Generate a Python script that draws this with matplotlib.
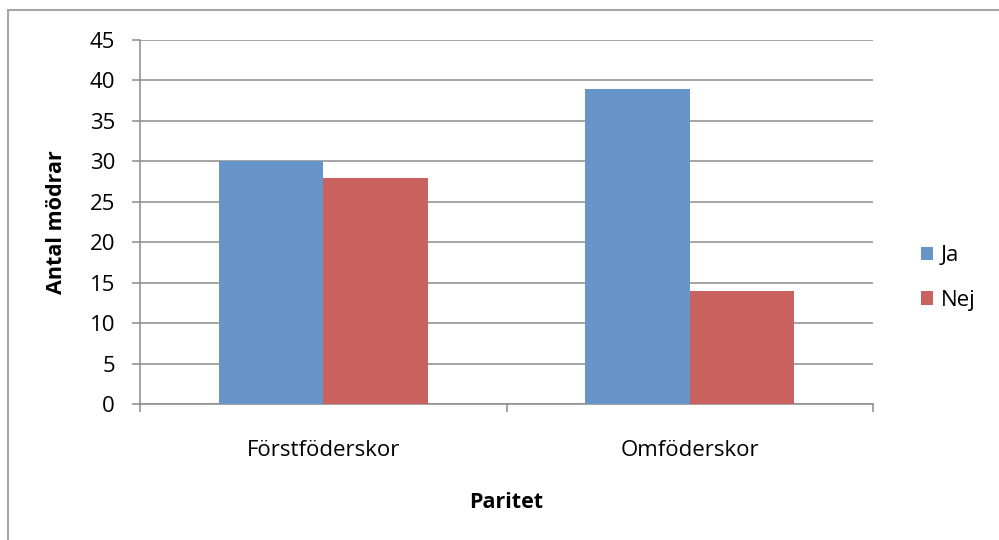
import matplotlib.pyplot as plt
from matplotlib.patches import Rectangle
import numpy as np

categories = ['Förstföderskor', 'Omföderskor']
ja_values = [30, 39]
nej_values = [28, 14]
series_labels = ['Ja', 'Nej']
yticks = list(range(0, 50, 5))

blue = '#6794C9'
red = '#C9625F'
grid_color = '#8C8C8C'

plt.rcParams['font.family'] = ['Open Sans', 'DejaVu Sans']

fig = plt.figure(figsize=(9.99, 5.4), dpi=100)
# plot area in pixel coordinates: x 140..873, y 40..404 (from top)
W, H = 999, 540
ax = fig.add_axes([140 / W, 1 - 404 / H, (873 - 140) / W, (404 - 40) / H])

# outer chart border (only top and left are inside the picture)
fig.patches.append(Rectangle((8 / W, -0.1), 1.2, 1 - 10 / H + 0.1, transform=fig.transFigure,
                             fill=False, edgecolor='#A6A6A6', linewidth=1.5))

x = np.arange(len(categories))
w = 1 / 3.5
ax.bar(x - w / 2, ja_values, w, color=blue, label=series_labels[0], zorder=3)
ax.bar(x + w / 2, nej_values, w, color=red, label=series_labels[1], zorder=3)

ax.set_xlim(-0.5, 1.5)
ax.set_ylim(0, 45)
ax.set_yticks(yticks)
ax.set_xticks(x)
ax.set_xticklabels(categories, fontsize=16)
ax.tick_params(axis='x', length=0, pad=26)
ax.set_xticks([-0.5, 0.5, 1.5], minor=True)
ax.tick_params(axis='x', which='minor', length=6, width=1.1, color=grid_color)
ax.tick_params(axis='y', length=6, width=1.1, color=grid_color, labelsize=16, pad=12)

ax.grid(axis='y', color=grid_color, linewidth=1.1, zorder=0)
for side in ['top', 'right']:
    ax.spines[side].set_visible(False)
for side in ['left', 'bottom']:
    ax.spines[side].set_color(grid_color)
    ax.spines[side].set_linewidth(1.1)

ax.set_ylabel('Antal mödrar', fontsize=15.5, fontweight='bold', labelpad=16)
ax.set_xlabel('Paritet', fontsize=15.5, fontweight='bold', labelpad=22)

ax.legend(loc='center left', bbox_to_anchor=(1.038, 0.346), frameon=False, fontsize=16,
          handlelength=0.55, handleheight=0.55, handletextpad=0.35, labelspacing=1.05)

fig.savefig('out.png', dpi=100)
